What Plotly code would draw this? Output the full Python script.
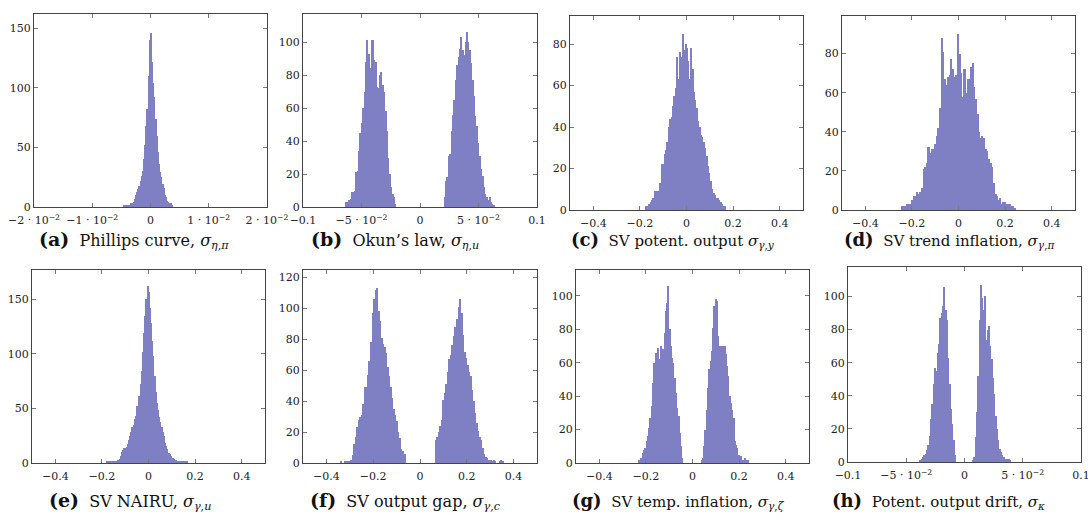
import plotly.graph_objects as go

# ---------------- data (histogram counts) ----------------
# (a) Phillips curve
a_start, a_width = -0.0045, 0.0002
a_counts = [1, 1, 1, 2, 2, 2, 3, 3, 4, 7, 10, 13, 15, 18, 22, 26, 30, 40, 52, 68, 82, 110,
            140, 146, 122, 104, 92, 74, 60, 46, 36, 29, 25, 19, 16, 10, 8, 5, 4, 3, 3, 1]

# (b) Okun's law (two modes)
b_left_start, b_right_start, b_width = -0.0628, 0.0212, 0.0012
b_left = [3, 3, 4, 5, 9, 9, 10, 21, 22, 34, 45, 51, 60, 70, 88, 101, 93, 84, 101, 101, 89, 88,
          73, 72, 80, 82, 74, 70, 58, 46, 30, 20, 12, 8, 6, 2]
b_right = [6, 16, 18, 31, 32, 46, 56, 65, 77, 86, 91, 96, 103, 95, 92, 100, 106, 100, 95, 87,
           77, 67, 55, 49, 39, 31, 23, 19, 12, 8, 6, 4, 6, 3, 2, 1]

# (c) SV potent. output
c_start, c_width = -0.171, 0.006
c_counts = [2, 2, 3, 4, 5, 6, 9, 9, 9, 9, 13, 22, 22, 27, 29, 33, 40, 44, 45, 50, 55, 59, 74,
            63, 76, 74, 85, 77, 80, 78, 72, 63, 78, 68, 57, 53, 49, 43, 40, 36, 35, 33, 30, 26,
            21, 18, 14, 10, 8, 7, 6, 6, 5, 4, 3, 2, 2]

# (d) SV trend inflation
d_start, d_width = -0.2395, 0.007
d_counts = [2, 2, 2, 3, 3, 3, 5, 7, 7, 9, 8, 9, 11, 21, 22, 24, 32, 29, 31, 31, 34, 38, 42, 52,
            88, 81, 67, 64, 68, 69, 77, 72, 68, 69, 90, 80, 70, 58, 72, 60, 67, 67, 73, 75, 63,
            57, 49, 40, 37, 38, 37, 31, 30, 26, 24, 22, 14, 8, 7, 5, 6, 3, 4, 4, 3, 3, 3, 2, 2, 1]

# (e) SV NAIRU
e_start, e_width = -0.1785, 0.005
e_counts = [1, 1, 0, 1, 1, 2, 2, 2, 2, 2, 3, 4, 6, 10, 12, 14, 14, 15, 17, 21, 25, 28, 33, 35,
            40, 43, 52, 47, 61, 72, 84, 102, 119, 135, 150, 162, 157, 142, 128, 112, 98, 80, 65,
            55, 49, 42, 38, 33, 28, 25, 18, 16, 13, 9, 8, 6, 5, 5, 4, 3, 2, 2, 2, 2, 1, 1, 1, 1,
            1, 1]

# (f) SV output gap (two modes)
f_left_start, f_right_start, f_width = -0.3383, 0.0683, 0.0065
f_left = [1, 0, 0, 1, 1, 1, 1, 2, 5, 12, 17, 23, 28, 30, 31, 38, 49, 49, 57, 66, 78, 97, 106,
          112, 113, 98, 92, 81, 77, 75, 71, 62, 56, 49, 42, 35, 31, 27, 20, 16, 9, 8, 6]
f_right = [15, 17, 20, 24, 28, 41, 45, 51, 59, 67, 70, 76, 82, 88, 93, 101, 106, 97, 83, 72, 68,
           63, 59, 56, 47, 40, 32, 26, 21, 17, 15, 10, 6, 4, 3, 2, 2, 1, 2, 1, 0, 0, 1, 2, 1]

# (g) SV temp. inflation (two modes)
g_left_start, g_right_start, g_width = -0.2295, 0.0395, 0.0055
g_left = [2, 2, 3, 6, 8, 9, 13, 16, 21, 27, 34, 48, 60, 66, 64, 69, 62, 70, 66, 68, 78, 91, 96,
          106, 80, 70, 63, 60, 51, 42, 33, 28, 18, 10, 3]
g_right = [2, 3, 10, 20, 32, 45, 56, 61, 67, 81, 94, 98, 97, 76, 70, 70, 70, 70, 70, 65, 58, 52,
           40, 36, 32, 27, 13, 11, 9, 5, 2, 4, 2, 2, 3, 2, 2]

# (h) Potent. output drift (two modes)
h_left_start, h_right_start, h_width = -0.0378, 0.0074, 0.00115
h_left = [1, 2, 3, 4, 5, 7, 10, 16, 26, 35, 47, 57, 55, 66, 71, 87, 90, 94, 106, 92, 86, 63, 47,
          32, 23, 13, 4]
h_right = [1, 3, 15, 30, 52, 86, 107, 99, 92, 100, 74, 80, 82, 70, 62, 51, 41, 28, 20, 13, 8, 6,
           4, 3, 2, 2, 2, 2, 1]

# tick labels
sci_ticks_a = ["−2 · 10<sup>−2</sup>", "−1 · 10<sup>−2</sup>", "0", "1 · 10<sup>−2</sup>",
               "2 · 10<sup>−2</sup>"]
sci_vals_a = [-0.02, -0.01, 0, 0.01, 0.02]
sci_ticks_b = ["−0.1", "−5 · 10<sup>−2</sup>", "0", "5 · 10<sup>−2</sup>", "0.1"]
sci_vals_b = [-0.1, -0.05, 0, 0.05, 0.1]
dec_ticks = ["−0.4", "−0.2", "0", "0.2", "0.4"]
dec_vals = [-0.4, -0.2, 0, 0.2, 0.4]

captions = [
    ("(a)", "Phillips curve, <i>σ</i><sub><i>η</i>,<i>π</i></sub>"),
    ("(b)", "Okun’s law, <i>σ</i><sub><i>η</i>,<i>u</i></sub>"),
    ("(c)", "SV potent. output <i>σ</i><sub><i>γ</i>,<i>y</i></sub>"),
    ("(d)", "SV trend inflation, <i>σ</i><sub><i>γ</i>,<i>π</i></sub>"),
    ("(e)", "SV NAIRU, <i>σ</i><sub><i>γ</i>,<i>u</i></sub>"),
    ("(f)", "SV output gap, <i>σ</i><sub><i>γ</i>,<i>c</i></sub>"),
    ("(g)", "SV temp. inflation, <i>σ</i><sub><i>γ</i>,<i>ζ</i></sub>"),
    ("(h)", "Potent. output drift, <i>σ</i><sub><i>κ</i></sub>"),
]

# ---------------- layout geometry (pixels) ----------------
W, H = 1088, 519
boxes = [  # x0, x1, ytop, ybottom
    (34, 267, 14, 207), (303, 537, 14, 207), (570, 803, 16, 210), (842, 1075, 16, 210),
    (32, 265, 270, 463), (303, 537, 270, 463), (576, 809, 270, 463), (848, 1081, 267, 462),
]
xranges = [(-0.02, 0.02), (-0.1, 0.1), (-0.5, 0.5), (-0.5, 0.5),
           (-0.5, 0.5), (-0.5, 0.5), (-0.5, 0.5), (-0.1, 0.1)]
yranges = [(0, 162), (0, 117), (0, 93.6), (0, 99.2), (0, 177), (0, 124.7), (0, 115.5), (0, 117.8)]
yticks = [[0, 50, 100, 150], [0, 20, 40, 60, 80, 100], [0, 20, 40, 60, 80], [0, 20, 40, 60, 80],
          [0, 50, 100, 150], [0, 20, 40, 60, 80, 100, 120], [0, 20, 40, 60, 80, 100],
          [0, 20, 40, 60, 80, 100]]
xticks = [(sci_vals_a, sci_ticks_a), (sci_vals_b, sci_ticks_b), (dec_vals, dec_ticks),
          (dec_vals, dec_ticks), (dec_vals, dec_ticks), (dec_vals, dec_ticks),
          (dec_vals, dec_ticks), (sci_vals_b, sci_ticks_b)]
cap_pos = [(134, 240), (395, 240), (673, 240), (949, 240),
           (130, 501), (405, 501), (678, 501), (938, 501)]
cap_size = [16, 16, 15, 15, 16, 16, 15, 15]

traces = [
    [(a_start, a_width, a_counts)],
    [(b_left_start, b_width, b_left), (b_right_start, b_width, b_right)],
    [(c_start, c_width, c_counts)],
    [(d_start, d_width, d_counts)],
    [(e_start, e_width, e_counts)],
    [(f_left_start, f_width, f_left), (f_right_start, f_width, f_right)],
    [(g_left_start, g_width, g_left), (g_right_start, g_width, g_right)],
    [(h_left_start, h_width, h_left), (h_right_start, h_width, h_right)],
]

BAR = "rgb(127,127,195)"
FONT = "'DejaVu Serif', 'Liberation Serif', serif"

fig = go.Figure()
layout = dict(
    width=W, height=H, margin=dict(l=0, r=0, t=0, b=0, autoexpand=False),
    paper_bgcolor="white", plot_bgcolor="white", showlegend=False,
    bargap=0, font=dict(family=FONT, size=11, color="#222"),
)
annotations = []
for i in range(8):
    n = "" if i == 0 else str(i + 1)
    xa, ya = "x" + n, "y" + n
    for (x0, dx, ys) in traces[i]:
        fig.add_trace(go.Bar(
            x0=x0, dx=dx, y=ys, xaxis=xa, yaxis=ya, width=dx * 1.02,
            marker=dict(color=BAR, line=dict(width=0)),
            hoverinfo="x+y",
        ))
    px0, px1, pyt, pyb = boxes[i]
    axis_common = dict(
        showgrid=False, zeroline=False, showline=True, linecolor="#444", linewidth=1,
        mirror="allticks", ticks="inside", ticklen=4, tickcolor="#777", tickwidth=1,
        tickfont=dict(family=FONT, size=11, color="#222"), automargin=False,
        ticklabeloverflow="allow",
    )
    layout["xaxis" + n] = dict(
        domain=[px0 / W, px1 / W], range=list(xranges[i]), anchor=ya, tickangle=0,
        tickvals=xticks[i][0], ticktext=xticks[i][1], ticklabelstandoff=3, **axis_common,
    )
    layout["yaxis" + n] = dict(
        domain=[1 - pyb / H, 1 - pyt / H], range=list(yranges[i]), anchor=xa,
        tickvals=yticks[i], **axis_common,
    )
    cx, cy = cap_pos[i]
    label, body = captions[i]
    text = ("<b><span style='font-size:%dpx'>" % (cap_size[i] + 3) + label + "</span></b>&nbsp;&nbsp;"
            + body)
    annotations.append(dict(
        x=cx / W, y=1 - cy / H, xref="paper", yref="paper", showarrow=False,
        text=text,
        font=dict(family=FONT, size=cap_size[i], color="#111"), xanchor="center", yanchor="middle",
    ))
layout["annotations"] = annotations
fig.update_layout(**layout)
fig.write_html("out.html")
